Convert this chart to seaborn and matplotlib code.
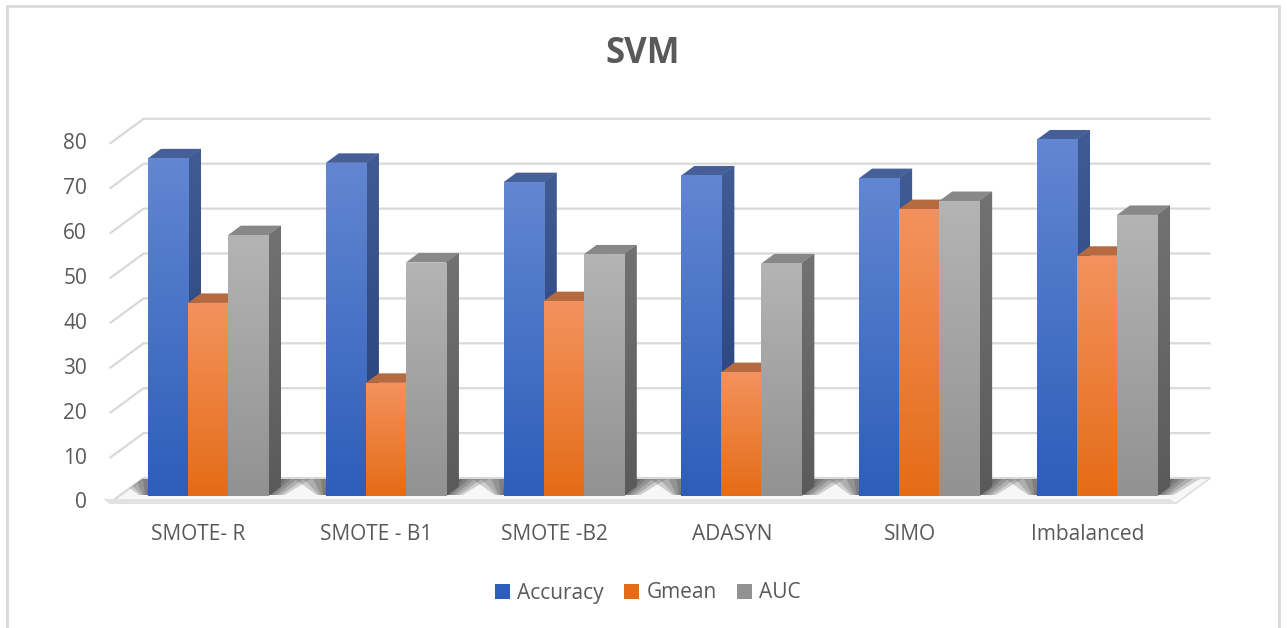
import numpy as np
import pandas as pd
import matplotlib
matplotlib.use("Agg")
import matplotlib.pyplot as plt
from matplotlib.patches import Polygon, Rectangle, Patch
from matplotlib.colors import to_rgb
import seaborn as sns

# ---- data -------------------------------------------------------------
methods = ["SMOTE- R", "SMOTE - B1", "SMOTE -B2", "ADASYN", "SIMO", "Imbalanced"]
metrics = ["Accuracy", "Gmean", "AUC"]
accuracy = [75.2, 74.2, 69.9, 71.4, 70.8, 79.4]
gmean = [43.0, 25.2, 43.4, 27.6, 63.9, 53.5]
auc = [58.1, 52.0, 53.8, 51.8, 65.7, 62.6]
y_ticks = [0, 10, 20, 30, 40, 50, 60, 70, 80]

df = pd.DataFrame({
    "Method": methods * 3,
    "Metric": [m for m in metrics for _ in methods],
    "Score": accuracy + gmean + auc,
})

# ---- styling ----------------------------------------------------------
sns.set_theme(style="white")
plt.rcParams["font.family"] = ["Open Sans", "DejaVu Sans"]
TEXT = "#595959"
GRID = "#D9D9D9"

# face colours: (front top, front bottom, side top, side bottom, top face)
faces = {
    "Accuracy": ("#6286D1", "#2D5EBA", "#415C94", "#233E78", "#475F98"),
    "Gmean":    ("#F3925E", "#E56C17", "#B3622F", "#9C4E1A", "#B66A40"),
    "AUC":      ("#B4B4B4", "#929292", "#727272", "#5A5A5A", "#888888"),
}
palette = {m: faces[m][1] for m in metrics}

# ---- canvas geometry (pixels) -----------------------------------------
W, H, DPI = 1287, 628, 100
X0, SX = 208.0, 177.8      # pixel x of category 0 and pixels per category
Y0, SY = 496.0, 4.49       # pixel y (from top) of value 0 and pixels per unit
DEPTH = (34.0, -25.0)      # oblique depth vector, floor front edge -> back wall
T_FRONT, T_BACK = 0.28, 0.66


def to_data(px, py):
    return (px - X0) / SX, (Y0 - py) / SY


def to_px(x, y):
    return X0 + SX * x, Y0 - SY * y


def plane(x, v, t):
    px, py = to_px(x, v)
    return to_data(px + (t - T_FRONT) * DEPTH[0], py + (t - T_FRONT) * DEPTH[1])


fig = plt.figure(figsize=(W / DPI, H / DPI), dpi=DPI)
ax = fig.add_axes([0, 0, 1, 1])
ax.set_facecolor("white")

# ---- bars (front faces) ----------------------------------------------
sns.barplot(data=df, x="Method", y="Score", hue="Metric", order=methods,
            hue_order=metrics, palette=palette, width=0.675, gap=0,
            saturation=1, errorbar=None, legend=False, ax=ax)
bars = sorted([p for p in ax.patches if isinstance(p, Rectangle)],
              key=lambda p: p.get_x())

# ---- back wall, side-wall grid and floor -----------------------------
x_lo, x_hi = -0.5, len(methods) - 0.5
for v in y_ticks:
    pts = [plane(x_lo, v, 0), plane(x_lo, v, 1), plane(x_hi, v, 1)]
    ax.plot(*zip(*pts), color=GRID, lw=1.6, zorder=1.5, solid_capstyle="butt")

floor = [plane(x_lo, 0, 0), plane(x_hi, 0, 0), plane(x_hi, 0, 1), plane(x_lo, 0, 1)]
floor_patch = Polygon(floor, closed=True, fc="#F7F7F7", ec=GRID, lw=1.0, zorder=1)
ax.add_patch(floor_patch)
# front edge of the floor slab
fx0, fy0 = to_px(*floor[0])
fx1, _ = to_px(*floor[1])
slab = [to_data(fx0, fy0 + 1), to_data(fx1, fy0 + 1),
        to_data(fx1 - 6, fy0 - 4), to_data(fx0 - 6, fy0 - 4)]
ax.add_patch(Polygon(slab, closed=True, fc="#E2E2E2", ec="none", zorder=2.5))


def gradient_fill(poly_patch, extent, top, bottom, z):
    c_top, c_bot = np.array(to_rgb(top)), np.array(to_rgb(bottom))
    s = np.linspace(0, 1, 64)[:, None]
    img = (c_bot * (1 - s) + c_top * s)[:, None, :]
    im = ax.imshow(img, extent=extent, origin="lower", aspect="auto",
                   interpolation="bilinear", zorder=z)
    im.set_clip_path(poly_patch)


ddx = (T_BACK - T_FRONT) * DEPTH[0] / SX
ddy = -(T_BACK - T_FRONT) * DEPTH[1] / SY
dpx = (T_BACK - T_FRONT) * DEPTH[0]

# soft floor shadows around each group
y_back = Y0 + (1 - T_FRONT) * DEPTH[1] + 1
for g in range(len(methods)):
    grp = bars[3 * g:3 * g + 3]
    bx0 = to_px(grp[0].get_x(), 0)[0]
    bx1 = to_px(grp[-1].get_x() + grp[-1].get_width(), 0)[0]
    for e in (30, 23, 16, 10, 5):
        pts = [to_data(bx0 - e * 1.3 + 8, y_back), to_data(bx1 + dpx + e, y_back),
               to_data(bx1 + e * 0.55, Y0 - 1), to_data(bx0 - e * 0.3, Y0 - 1)]
        sh = Polygon(pts, closed=True, fc="#2E2E2E", ec="none", alpha=0.2,
                     zorder=2)
        ax.add_patch(sh)
        sh.set_clip_path(floor_patch)

# ---- 3-D bar faces -----------------------------------------------------
for i, p in enumerate(bars):
    metric = metrics[i % 3]
    ft, fb, st, sb, tc = faces[metric]
    x0, w, h = p.get_x(), p.get_width(), p.get_height()
    x1 = x0 + w
    z = 3 + i * 0.05
    side = Polygon([(x1, 0), (x1 + ddx, ddy), (x1 + ddx, h + ddy), (x1, h)],
                   closed=True, fc=sb, ec="none", zorder=z)
    ax.add_patch(side)
    gradient_fill(side, [x1, x1 + ddx, 0, h + ddy], st, sb, z + 0.005)
    top = Polygon([(x0, h), (x1, h), (x1 + ddx, h + ddy), (x0 + ddx, h + ddy)],
                  closed=True, fc=tc, ec="none", zorder=z + 0.01)
    ax.add_patch(top)
    p.set_edgecolor("none")
    p.set_zorder(z + 0.02)
    gradient_fill(p, [x0, x1, 0, h], ft, fb, z + 0.03)

# ---- text ------------------------------------------------------------
for v in y_ticks:
    py = Y0 - SY * v - T_FRONT * DEPTH[1]
    ax.text(*to_data(87, py), str(v), ha="right", va="center",
            fontsize=15, color=TEXT)

for k, name in enumerate(methods):
    px = to_px(k, 0)[0] - T_FRONT * DEPTH[0]
    ax.text(*to_data(px, 535), name, ha="center", va="center",
            fontsize=15, color=TEXT)

ax.text(*to_data(643, 54), "SVM", ha="center", va="center", fontsize=25,
        fontweight="bold", color=TEXT)

# chart frame
bl = to_data(7, 660)
ax.add_patch(Rectangle(bl, (1279 - 7) / SX, (660 - 6) / SY, fill=False,
                       ec=GRID, lw=2, zorder=0.5, clip_on=False))

handles = [Patch(fc=faces[m][1], ec="none", label=m) for m in metrics]
fig.legend(handles=handles, loc="center", bbox_to_anchor=(648 / W, 1 - 593 / H),
           ncol=3, frameon=False, fontsize=15, labelcolor=TEXT,
           handlelength=0.7, handleheight=0.7, handletextpad=0.35,
           columnspacing=1.0)

ax.set_xlim(to_data(0, 0)[0], to_data(W, 0)[0])
ax.set_ylim(to_data(0, H)[1], to_data(0, 0)[1])
ax.axis("off")

fig.savefig("out.png", dpi=DPI)
